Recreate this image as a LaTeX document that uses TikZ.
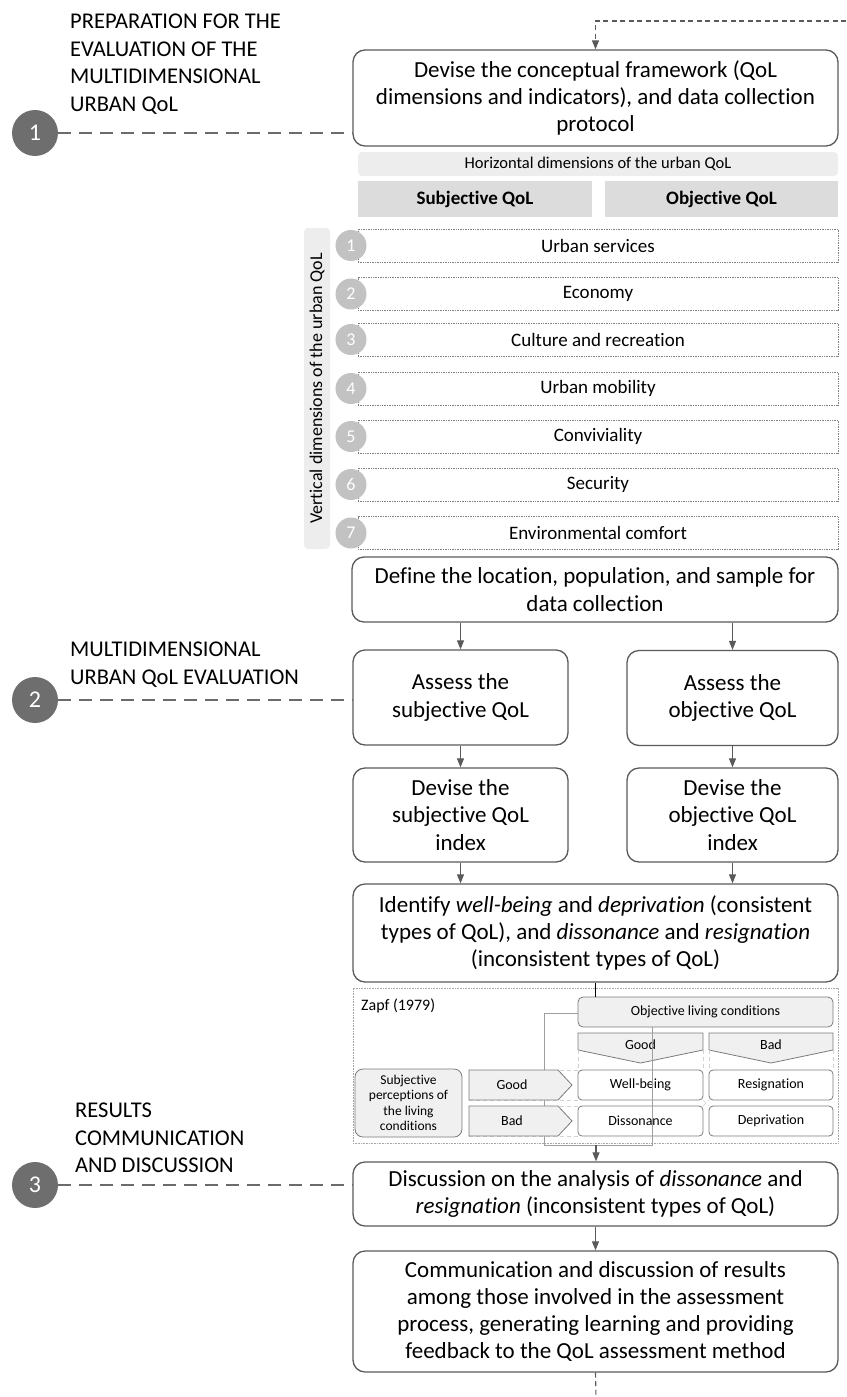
\documentclass[tikz,border=0pt]{standalone}
\usepackage{fontspec}
\setmainfont[Ligatures=NoCommon]{Carlito}
\usetikzlibrary{arrows.meta}
\definecolor{boxc}{HTML}{5A5A5A}
\definecolor{dcirc}{HTML}{6E6E6E}
\definecolor{lcirc}{HTML}{C2C2C2}
\definecolor{lfill}{HTML}{EDEDED}
\definecolor{mfill}{HTML}{DCDCDC}
\definecolor{pfill}{HTML}{F0F0F0}
\tikzset{
  mainbox/.style={draw=boxc, line width=1.3pt, rounded corners=12pt, fill=white, align=center, inner sep=0pt, font=\fontsize{23}{27.3}\selectfont},
  arr/.style={draw=boxc, line width=1.1pt, -{Triangle[length=9pt,width=7pt]}},
  phaseline/.style={draw=boxc!90, line width=1.6pt, dash pattern=on 13pt off 8pt},
  feedline/.style={draw=boxc, line width=1.1pt, dash pattern=on 5pt off 3.5pt},
  phasecirc/.style={circle, fill=dcirc, minimum size=46pt, inner sep=0pt, text=white, font=\fontsize{24}{24}\selectfont},
  phaselabel/.style={anchor=north west, align=left, inner sep=0pt, font=\fontsize{22.5}{27.4}\selectfont},
  rowbox/.style={draw=gray, densely dotted, line width=0.7pt, minimum width=480pt, minimum height=33pt, inner sep=0pt, font=\fontsize{19}{21}\selectfont},
  rowcirc/.style={circle, fill=lcirc, minimum size=31pt, inner sep=0pt, text=white, font=\fontsize{18}{18}\selectfont},
  zbox/.style={draw=boxc!80, line width=0.8pt, rounded corners=4pt, inner sep=0pt, font=\fontsize{14}{16}\selectfont, align=center},
  ztext/.style={inner sep=0pt, font=\fontsize{14}{16}\selectfont},
  guide/.style={draw=gray!35, line width=0.7pt, dash pattern=on 4pt off 3pt},
}
\begin{document}
\begin{tikzpicture}[x=1pt,y=-1pt]
\useasboundingbox (0,0) rectangle (846,1397);

% ---------- phase labels ----------
\node[phaselabel] (l1) at (70,14) {PREPARATION FOR THE\\EVALUATION OF THE\\MULTIDIMENSIONAL\\URBAN QoL};
\node[phaselabel] (l2) at (70,642) {MULTIDIMENSIONAL\\URBAN QoL EVALUATION};
\node[phaselabel] (l3) at (75,1103) {RESULTS\\COMMUNICATION\\AND DISCUSSION};

% ---------- main boxes ----------
\node[mainbox, minimum width=485pt, minimum height=96pt] (b1) at (595.5,98) {Devise the conceptual framework (QoL\\dimensions and indicators), and data collection\\protocol};

\node[fill=lfill, rounded corners=4pt, minimum width=480pt, minimum height=24pt, inner sep=0pt, font=\fontsize{16.5}{18}\selectfont] (hdim) at (598,164) {Horizontal dimensions of the urban QoL};
\node[fill=mfill, minimum width=234pt, minimum height=36pt, inner sep=0pt, font=\bfseries\fontsize{19}{21}\selectfont] (subj) at (475,199) {Subjective QoL};
\node[fill=mfill, minimum width=233pt, minimum height=36pt, inner sep=0pt, font=\bfseries\fontsize{19}{21}\selectfont] (obj) at (721.5,199) {Objective QoL};

\node[fill=lfill, rounded corners=4pt, rotate=90, minimum width=321pt, minimum height=26pt, inner sep=0pt, font=\fontsize{18}{19}\selectfont] (vlab) at (317,388.5) {Vertical dimensions of the urban QoL};

\node[rowbox] (r1) at (598,245.5) {Urban services};
\node[rowbox] (r2) at (598,294) {Economy};
\node[rowbox] (r3) at (598,339.5) {Culture and recreation};
\node[rowbox] (r4) at (598,388.5) {Urban mobility};
\node[rowbox] (r5) at (598,436.5) {Conviviality};
\node[rowbox] (r6) at (598,484.5) {Security};
\node[rowbox] (r7) at (598,533) {Environmental comfort};
\node[rowcirc] (n1) at (351,245.5) {1};
\node[rowcirc] (n2) at (351,294) {2};
\node[rowcirc] (n3) at (351,339.5) {3};
\node[rowcirc] (n4) at (351,388.5) {4};
\node[rowcirc] (n5) at (351,436.5) {5};
\node[rowcirc] (n6) at (351,484.5) {6};
\node[rowcirc] (n7) at (351,533) {7};

\node[mainbox, minimum width=486pt, minimum height=65pt] (def) at (595,589.5) {Define the location, population, and sample for\\data collection};
\node[mainbox, minimum width=215pt, minimum height=95pt] (asub) at (460.5,697.5) {Assess the\\subjective QoL};
\node[mainbox, minimum width=211pt, minimum height=95pt] (aobj) at (732.5,698) {Assess the\\objective QoL};
\node[mainbox, minimum width=215pt, minimum height=94pt] (dsub) at (460.5,815) {Devise the\\subjective QoL\\index};
\node[mainbox, minimum width=211pt, minimum height=94pt] (dobj) at (732.5,815) {Devise the\\objective QoL\\index};
\node[mainbox, minimum width=485pt, minimum height=98pt] (ident) at (595.5,933) {Identify \emph{well-being} and \emph{deprivation} (consistent\\types of QoL), and \emph{dissonance} and \emph{resignation}\\(inconsistent types of QoL)};

% ---------- Zapf panel ----------
\node[draw=gray!70, densely dotted, line width=0.6pt, minimum width=485pt, minimum height=155pt, inner sep=0pt] (zapf) at (595.5,1065.5) {};
\node[anchor=west, inner sep=0pt, font=\fontsize{16}{18}\selectfont] (ztitle) at (361,1006) {Zapf (1979)};
\coordinate (zb) at (596,1145);
\draw[draw=gray!75, line width=0.8pt] (578,1013) -- (544,1013) -- (544,1145) -- (652,1145) -- (652,1027);
\node[zbox, fill=pfill, rounded corners=5pt, minimum width=255pt, minimum height=30pt] (olc) at (705.5,1012) {Objective living conditions};
\draw[line width=0.8pt] (ident.south) -- (ident.south |- olc.north);

% column headers
\draw[draw=boxc!80, fill=pfill, line width=0.8pt] (578,1033) -- (703,1033) -- (703,1050) -- (640.5,1063) -- (578,1050) -- cycle;
\node[ztext] (cg) at (640.5,1045) {Good};
\draw[draw=boxc!80, fill=pfill, line width=0.8pt] (709,1033) -- (833,1033) -- (833,1050) -- (771,1063) -- (709,1050) -- cycle;
\node[ztext] (cb) at (771,1045) {Bad};

% guide lines
\draw[guide] (578,1050) -- (578,1070) (703,1050) -- (703,1070) (709,1050) -- (709,1070) (833,1050) -- (833,1070);
\draw[guide] (469,1070) -- (578,1070) (469,1100) -- (578,1100) (469,1106) -- (578,1106) (469,1136) -- (578,1136);
\draw[guide] (703,1100) -- (709,1106) (703,1106) -- (709,1100);

% row headers
\draw[draw=boxc!80, fill=pfill, line width=0.8pt] (469,1070) -- (558,1070) -- (572,1085) -- (558,1100) -- (469,1100) -- cycle;
\node[ztext] (rg) at (512,1085) {Good};
\draw[draw=boxc!80, fill=pfill, line width=0.8pt] (469,1106) -- (558,1106) -- (572,1121) -- (558,1136) -- (469,1136) -- cycle;
\node[ztext] (rb) at (512,1121) {Bad};

\node[zbox, fill=pfill, rounded corners=8pt, minimum width=107pt, minimum height=68pt, font=\fontsize{13.5}{15.5}\selectfont] (spl) at (408.5,1103) {Subjective\\perceptions of\\the living\\conditions};

% cells
\node[zbox, fill=white, minimum width=125pt, minimum height=30pt] (wb) at (640.5,1085) {Well-being};
\node[zbox, fill=white, minimum width=124pt, minimum height=30pt] (rs) at (771,1085) {Resignation};
\node[zbox, fill=white, minimum width=125pt, minimum height=30pt] (ds) at (640.5,1121) {Dissonance};
\node[zbox, fill=white, minimum width=124pt, minimum height=30pt] (dp) at (771,1121) {Deprivation};
\draw[draw=gray!75, line width=0.8pt] (652,1027) -- (652,1145);

% ---------- lower boxes ----------
\node[mainbox, minimum width=485pt, minimum height=64pt] (disc) at (595.5,1194) {Discussion on the analysis of \emph{dissonance} and\\\emph{resignation} (inconsistent types of QoL)};
\node[mainbox, minimum width=485pt, minimum height=121pt] (comm) at (595.5,1311.5) {Communication and discussion of results\\among those involved in the assessment\\process, generating learning and providing\\feedback to the QoL assessment method};

% ---------- phase circles ----------
\node[phasecirc] (c1) at (35,133) {1};
\node[phasecirc] (c2) at (35,700) {2};
\node[phasecirc] (c3) at (35,1185) {3};
\draw[phaseline] (c1.east) -- (c1.east -| b1.west);
\draw[phaseline] (c2.east) -- (c2.east -| asub.west);
\draw[phaseline] (c3.east) -- (c3.east -| disc.west);

% ---------- arrows ----------
\coordinate (tr) at (846,21);
\coordinate (brc) at (596,1397);
\draw[feedline, -{Triangle[length=9pt,width=7pt]}] (tr) -- (tr -| b1.north) -- (b1.north);
\draw[feedline] (comm.south) -- (brc);
\draw[arr] (def.south -| asub.north) -- (asub.north);
\draw[arr] (def.south -| aobj.north) -- (aobj.north);
\draw[arr] (asub) -- (dsub);
\draw[arr] (aobj) -- (dobj);
\draw[arr] (dsub.south) -- (dsub.south |- ident.north);
\draw[arr] (dobj.south) -- (dobj.south |- ident.north);
\draw[arr] (zb) -- (zb |- disc.north);
\draw[arr] (disc.south) -- (comm.north);
\end{tikzpicture}
\end{document}
